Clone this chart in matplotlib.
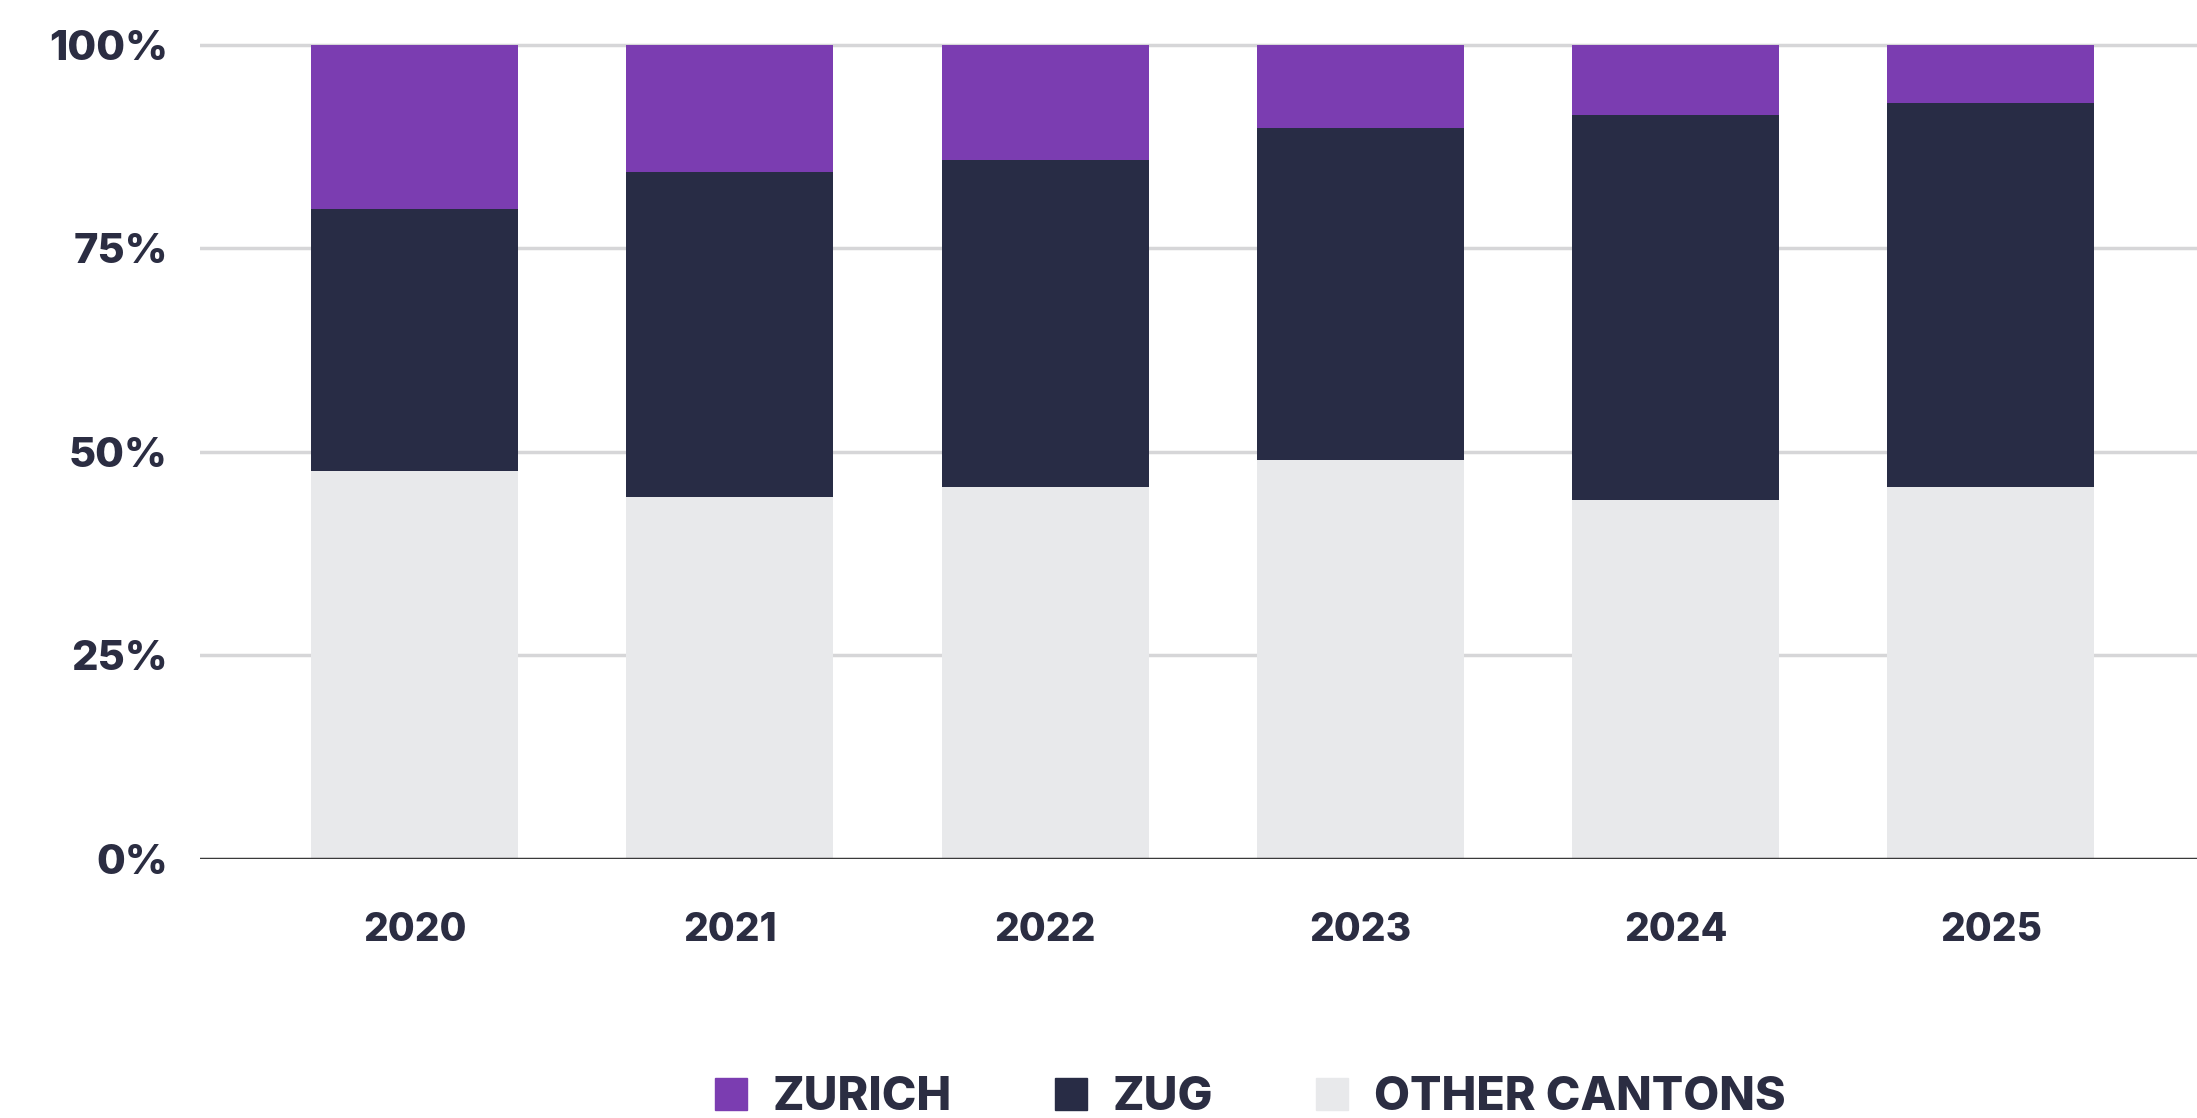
import matplotlib
matplotlib.use("Agg")
import matplotlib.pyplot as plt
from matplotlib.patches import Patch
import numpy as np

# share of each canton per year, in percent
years = ["2020", "2021", "2022", "2023", "2024", "2025"]
other_cantons = [47.7, 44.5, 45.7, 49.0, 44.1, 45.7]
zug = [32.2, 39.9, 40.2, 40.8, 47.3, 47.2]
zurich = [20.1, 15.6, 14.1, 10.2, 8.6, 7.1]

purple = "#7B3DB1"
navy = "#282C45"
grey = "#E8E9EB"
txt = "#2B2D42"

plt.rcParams["font.family"] = ["Inter", "DejaVu Sans"]

fig = plt.figure(figsize=(21.97, 11.18), dpi=100)
ax = fig.add_axes([0.091, 0.2317, 0.909, 0.7426])

x = np.arange(len(years))
w = 0.657
bottom2 = np.array(other_cantons) + np.array(zug)
ax.bar(x, other_cantons, w, color=grey, zorder=2)
ax.bar(x, zug, w, bottom=other_cantons, color=navy, zorder=2)
ax.bar(x, zurich, w, bottom=bottom2, color=purple, zorder=2)

ax.set_xlim(-0.681, 5.654)
ax.set_ylim(0, 102)
ax.set_yticks([0, 25, 50, 75, 100])
ax.set_yticklabels(["0%", "25%", "50%", "75%", "100%"])
ax.set_xticks(x)
ax.set_xticklabels(years)

for yv in [25, 50, 75, 100]:
    ax.axhline(yv, color="#D6D6D8", lw=2.5, zorder=1)
ax.axhline(0, color="#3A3A3A", lw=2.5, zorder=3)

for s in ax.spines.values():
    s.set_visible(False)
ax.tick_params(axis="both", length=0, colors=txt)
ax.tick_params(axis="y", pad=23, labelsize=30)
ax.tick_params(axis="x", pad=38, labelsize=28)
for lab in ax.get_xticklabels() + ax.get_yticklabels():
    lab.set_fontweight("heavy")

handles = [Patch(color=purple, label="ZURICH"),
           Patch(color=navy, label="ZUG"),
           Patch(color=grey, label="OTHER CANTONS")]
leg = fig.legend(handles=handles, loc="center", bbox_to_anchor=(0.569, 0.0175),
                 ncol=3, frameon=False, fontsize=33.5, handlelength=0.7,
                 handleheight=0.7, handletextpad=0.55, columnspacing=2.2)
for t in leg.get_texts():
    t.set_color(txt)
    t.set_fontweight("heavy")

fig.savefig("out.png", dpi=100)
